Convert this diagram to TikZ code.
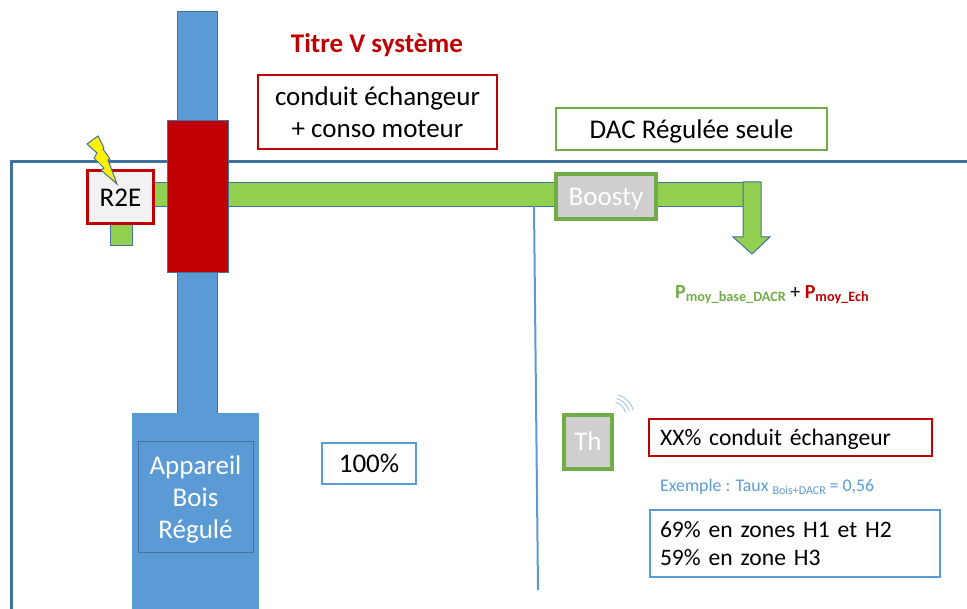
\documentclass[tikz,border=0pt]{standalone}
\usepackage{fontspec}
\setmainfont{Carlito}
\usetikzlibrary{positioning,calc}

\definecolor{bleu}{HTML}{5B9BD5}
\definecolor{bleufonce}{HTML}{41719C}
\definecolor{vert}{HTML}{92D050}
\definecolor{vertfonce}{HTML}{70AD47}
\definecolor{rouge}{HTML}{C00000}
\definecolor{gris}{HTML}{D0CECE}

\newcommand{\taille}[2]{\fontsize{#1}{#2}\selectfont}
\newcommand{\espace}{\spaceskip=.27em\relax}

\tikzset{
	bloc/.style={draw=bleufonce, line width=1pt, inner sep=0pt, anchor=north west},
	texte/.style={inner sep=0pt, align=center, text=black},
	cadre/.style={draw=#1, fill=white, line width=2pt, inner sep=0pt, anchor=north west, text=black},
	capteur/.style={draw=vertfonce, fill=gris, line width=4pt, inner sep=0pt, anchor=north west, text=white},
	ligne/.style={font=\taille{27}{32}, text height=#1, text depth=0pt}
}

\begin{document}
\begin{tikzpicture}[x=1pt, y=-1pt]
	\useasboundingbox (0,0) rectangle (967,609);

	\draw[bleufonce, line width=3pt] (11.5,609) -- (11.5,161.5) -- (967,161.5);

	\node [bloc, fill=bleu, minimum width=40, minimum height=402] (colonne) at (176.5,11) {};

	\node [bloc, draw=none, fill=bleu, minimum width=127, minimum height=196,
	text=white] (appareil) at (131.5,412.5) {};

	\node [bloc, fill=bleu, minimum width=115, minimum height=110, text=white,
	align=center, font=\taille{27}{32}] (foyer) at (137.5,441.5) {\rule{0pt}{24pt}Appareil\\Bois\\Régulé};

	\node [bloc, fill=vert, minimum width=22, minimum height=24] (piquage) at (109.5,221) {};

	\node [bloc, fill=vert, minimum width=610, minimum height=24] (gaine) at (133,182) {};

	\draw[bleufonce, fill=vert, line width=1pt] (743,182) -- (761,182) -- (761,237) -- (770,237)
	-- (752,254) -- (733,237) -- (743,237) -- cycle;

	\node [bloc, fill=rouge, minimum width=61, minimum height=152] (echangeur) at (166.5,120.5) {};

	\node [draw=rouge, fill=black!5, line width=3pt, inner sep=0pt, anchor=north west,
	minimum width=66, minimum height=53, ligne=19pt] (r2e) at (86,169) {R2E};

	\draw[bleufonce, fill=yellow, line width=1pt] (98,136) -- (87,144) -- (97,153) -- (94,158)
	-- (104,168) -- (101,170) -- (117,184) -- (108,160) -- (110,159) -- (103,149) -- (104,148) -- cycle;

	\node [capteur, minimum width=100, minimum height=45, ligne=19pt] (boosty) at (554,172) {Boosty};

	\coordinate (derivation) at (534,206);
	\coordinate (sol) at (538,590);
	\draw[bleu, line width=2pt] (derivation) -- (sol);

	\node [capteur, minimum width=48, minimum height=54, ligne=17.4pt] (th) at (562,413) {Th};

	\coordinate (onde) at (612,416);
	\foreach \r in {14,18,22}
		\draw[bleu!70, line width=.7pt] ($(onde)+(15:\r pt)$) arc[start angle=15, end angle=75, radius=\r pt];

	\node [texte, text=rouge, font=\taille{27}{32}\bfseries] (titre) at (377,45) {Titre V système};

	\node [cadre=rouge, minimum width=239, minimum height=74, align=center,
	font=\taille{27}{32}] (conduit) at (257,74) {conduit échangeur\\+ conso moteur};

	\node [cadre=vertfonce, minimum width=271, minimum height=42, ligne=19pt] (dac)
	at (555,107) {DAC Régulée seule};

	\node [texte, anchor=base west] (puissance) at (675,299) {\taille{20}{24}\textcolor{vertfonce}{\textbf{P}\raisebox{-3pt}{\taille{14.2}{16}\textbf{moy\_base\_DACR}}} \taille{20}{24}+ \textcolor{rouge}{\textbf{P}\raisebox{-3pt}{\taille{14.2}{16}\textbf{moy\_Ech}}}};

	\node [cadre=bleu, minimum width=94, minimum height=41, ligne=18pt] (cent)
	at (321,442) {100\%};

	\node [cadre=rouge, minimum width=282, minimum height=37, text width=261,
	inner xsep=11pt, align=left, font=\taille{23.6}{28}\espace, text height=17pt, text depth=0pt]
	(part) at (648,418) {XX\% conduit échangeur};

	\node [texte, anchor=base west, text=bleu] (exemple) at (660,492)
	{\taille{17.8}{20}Exemple : Taux \raisebox{-2pt}{\taille{12}{14}Bois+DACR} \taille{17.8}{20}= 0,56};

	\node [cadre=bleu, minimum width=289, minimum height=67, text width=270,
	inner xsep=10pt, align=left, font=\taille{23.6}{28}\espace] (zones) at (649,509)
	{69\% en zones H1 et H2\\59\% en zone H3};

\end{tikzpicture}
\end{document}
